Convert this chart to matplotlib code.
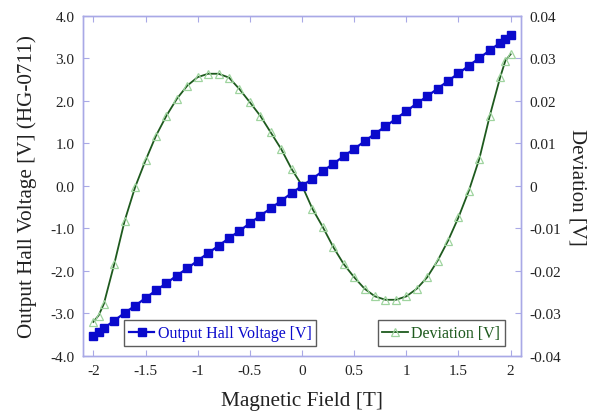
import matplotlib
matplotlib.use("Agg")
import matplotlib.pyplot as plt

# ---- data ----
field = [-2.0, -1.95, -1.9, -1.8, -1.7, -1.6, -1.5, -1.4, -1.3, -1.2, -1.1,
         -1.0, -0.9, -0.8, -0.7, -0.6, -0.5, -0.4, -0.3, -0.2, -0.1,
         0.0, 0.1, 0.2, 0.3, 0.4, 0.5, 0.6, 0.7, 0.8, 0.9,
         1.0, 1.1, 1.2, 1.3, 1.4, 1.5, 1.6, 1.7, 1.8, 1.9, 1.95, 2.0]

hall_voltage = [-3.53, -3.44, -3.35, -3.17, -2.99, -2.82, -2.64, -2.46, -2.29, -2.11, -1.94,
                -1.76, -1.58, -1.41, -1.23, -1.06, -0.88, -0.70, -0.53, -0.35, -0.17,
                0.00, 0.17, 0.35, 0.52, 0.70, 0.87, 1.05, 1.23, 1.40, 1.58,
                1.76, 1.94, 2.11, 2.29, 2.47, 2.65, 2.83, 3.01, 3.19, 3.37, 3.46, 3.55]

deviation = [-0.0320, -0.0305, -0.0278, -0.0184, -0.0082, -0.0003, 0.0060, 0.0118, 0.0165, 0.0205, 0.0236,
             0.0256, 0.0264, 0.0264, 0.0255, 0.0228, 0.0197, 0.0165, 0.0126, 0.0087, 0.0040,
             0.0001, -0.0054, -0.0097, -0.0144, -0.0184, -0.0215, -0.0242, -0.0260, -0.0268, -0.0268,
             -0.0260, -0.0242, -0.0215, -0.0176, -0.0129, -0.0074, -0.0011, 0.0064, 0.0165, 0.0256, 0.0295, 0.0310]

x_ticks = [-2, -1.5, -1, -0.5, 0, 0.5, 1, 1.5, 2]
x_tick_labels = ["-2", "-1.5", "-1", "-0.5", "0", "0.5", "1", "1.5", "2"]
left_ticks = [4.0, 3.0, 2.0, 1.0, 0.0, -1.0, -2.0, -3.0, -4.0]
left_tick_labels = ["4.0", "3.0", "2.0", "1.0", "0.0", "-1.0", "-2.0", "-3.0", "-4.0"]
right_ticks = [0.04, 0.03, 0.02, 0.01, 0.0, -0.01, -0.02, -0.03, -0.04]
right_tick_labels = ["0.04", "0.03", "0.02", "0.01", "0", "-0.01", "-0.02", "-0.03", "-0.04"]

# ---- style ----
plt.rcParams['font.family'] = ['Liberation Serif', 'DejaVu Serif']
spine_col = '#a9a9e6'
blue = '#0a0acc'
dark_green = '#1e5a1e'
light_green = '#9fd49f'

fig = plt.figure(figsize=(6.01, 4.14), dpi=100)
ax = fig.add_axes([0.138, 0.138, 0.729, 0.821])
ax2 = ax.twinx()

ax2.plot(field, deviation, color=dark_green, lw=1.3, marker='^', ms=6,
         mfc='none', mec=light_green, mew=0.9, label='Deviation [V]')
ax.plot(field, hall_voltage, color=blue, lw=1.6, marker='s', ms=5.5,
        mfc=blue, mec=blue, label='Output Hall Voltage [V]')

ax.set_zorder(ax2.get_zorder() + 1)
ax.patch.set_visible(False)

ax.set_xlim(-2.1, 2.1)
ax.set_ylim(-4.0, 4.0)
ax2.set_ylim(-0.04, 0.04)

ax.set_xticks(x_ticks)
ax.set_xticklabels(x_tick_labels)
ax.set_yticks(left_ticks)
ax.set_yticklabels(left_tick_labels)
ax2.set_yticks(right_ticks)
ax2.set_yticklabels(right_tick_labels)

for a in (ax, ax2):
    for s in a.spines.values():
        s.set_color(spine_col)
        s.set_linewidth(1.0)
    a.tick_params(direction='in', length=4, width=0.8, color=spine_col,
                  labelsize=11, labelcolor='#222222', pad=6)
ax.tick_params(top=True, labeltop=False)

ax.set_xlabel('Magnetic Field [T]', fontsize=15.3, color='#222222', labelpad=10)
ax.set_ylabel('Output Hall Voltage [V] (HG-0711)', fontsize=15.2, color='#222222', labelpad=10)
ax2.set_ylabel('Deviation [V]', fontsize=15, color='#222222', rotation=270, labelpad=18)

leg1 = ax.legend(loc='lower left', bbox_to_anchor=(0.094, 0.029), fontsize=11.5,
                 frameon=True, fancybox=False, edgecolor='#333333', borderpad=0.3,
                 handlelength=1.6, handletextpad=0.2, borderaxespad=0)
for t in leg1.get_texts():
    t.set_color(blue)
leg1.get_frame().set_linewidth(1.0)

leg2 = ax2.legend(loc='lower right', bbox_to_anchor=(0.963, 0.029), fontsize=11.5,
                  frameon=True, fancybox=False, edgecolor='#333333', borderpad=0.3,
                  handlelength=1.6, handletextpad=0.2, borderaxespad=0)
for t in leg2.get_texts():
    t.set_color(dark_green)
leg2.get_frame().set_linewidth(1.0)

fig.savefig('out.png', dpi=100)
